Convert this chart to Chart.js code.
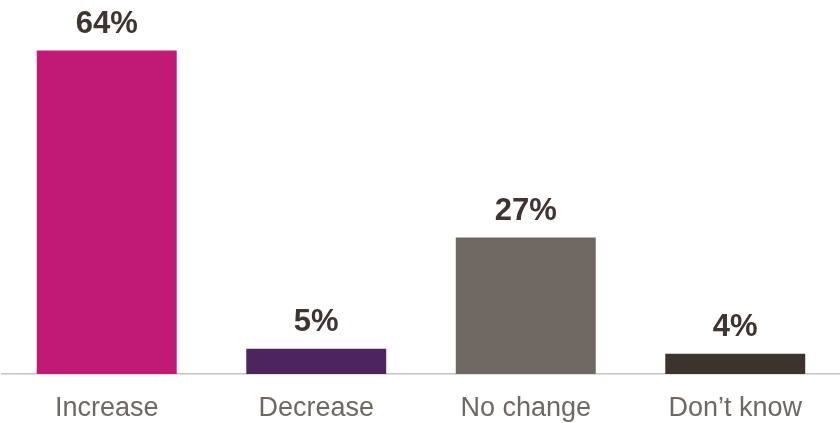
<!DOCTYPE html>
<html>
<head>
<meta charset="utf-8">
<script src="https://cdn.jsdelivr.net/npm/chart.js@4"></script>
<style>
    html, body { margin: 0; padding: 0; background: #fff; overflow: hidden; }
    #wrap { width: 840px; height: 423px; position: relative; }
</style>
</head>
<body>
<div id="wrap"><canvas id="bar-chart"></canvas></div>
<script>
const categories = ['Increase', 'Decrease', 'No change', 'Don\u2019t know'];
const shares = [64, 5, 27, 4];
const barColors = ['#C11A75', '#4D245E', '#6F6762', '#3D332D'];

const fontFamily = 'Arial, "Liberation Sans", sans-serif';

// draw the value on top of each bar
const valueLabels = {
    id: 'valueLabels',
    afterDatasetsDraw(chart) {
        const ctx = chart.ctx;
        const meta = chart.getDatasetMeta(0);
        ctx.save();
        ctx.font = 'bold 31px ' + fontFamily;
        ctx.fillStyle = '#3E3430';
        ctx.textAlign = 'center';
        ctx.textBaseline = 'alphabetic';
        meta.data.forEach((bar, i) => {
            ctx.fillText(shares[i] + '%', bar.x, bar.y - 18);
        });
        ctx.restore();
    }
};

new Chart(document.getElementById('bar-chart').getContext('2d'), {
    type: 'bar',
    data: {
        labels: categories,
        datasets: [{
            data: shares,
            backgroundColor: barColors,
            categoryPercentage: 1,
            barPercentage: 0.668
        }]
    },
    options: {
        responsive: true,
        maintainAspectRatio: false,
        animation: false,
        layout: { padding: { left: 2, right: 0, top: 0, bottom: 0 } },
        plugins: {
            legend: { display: false },
            tooltip: { enabled: false }
        },
        scales: {
            x: {
                grid: { display: false, drawTicks: false },
                border: { display: true, color: '#C9C1C1', width: 1.5 },
                ticks: {
                    color: '#6E6762',
                    padding: 18,
                    font: { family: fontFamily, size: 27 }
                },
                afterFit(scale) {
                    scale.height = 49;
                }
            },
            y: {
                display: false,
                min: 0,
                max: 74
            }
        }
    },
    plugins: [valueLabels]
});
</script>
</body>
</html>
